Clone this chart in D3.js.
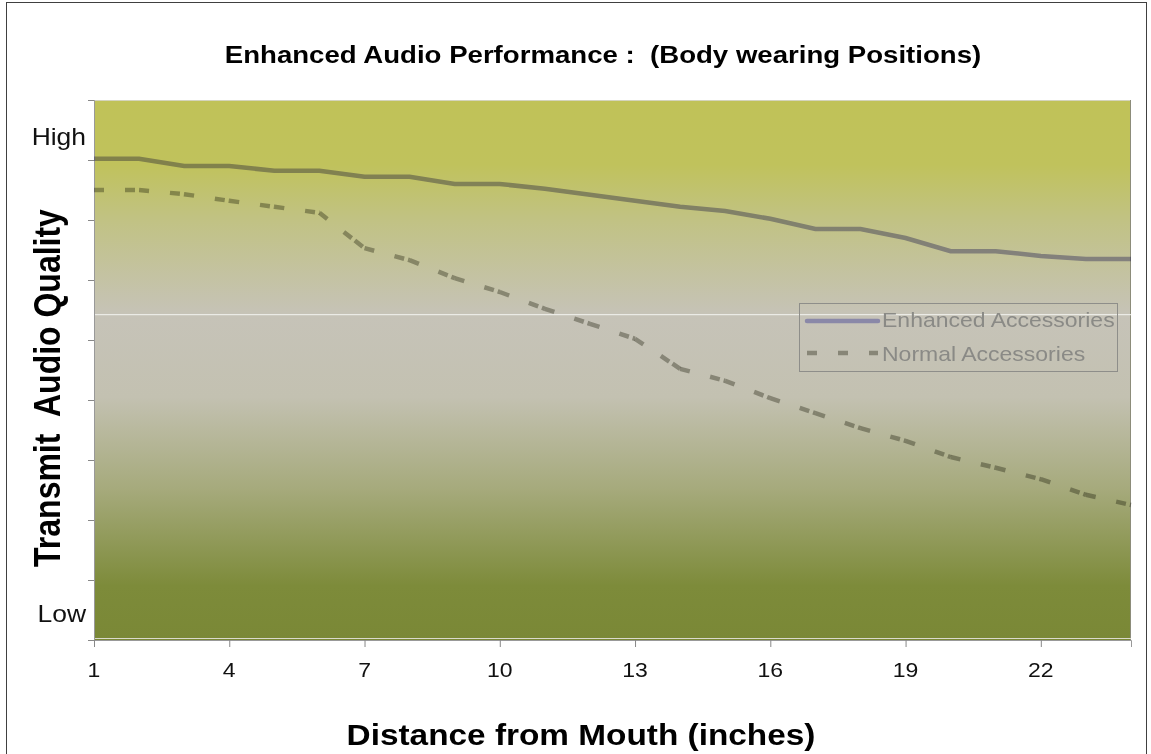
<!DOCTYPE html>
<html>
<head>
<meta charset="utf-8">
<script src="https://cdn.jsdelivr.net/npm/d3@7"></script>
<style>
  body { margin: 0; background: #fff; }
  text { font-family: "Liberation Sans", Arial, sans-serif; }
</style>
</head>
<body>
<svg id="chart" width="1151" height="754"></svg>
<script>
// categories: distance from mouth in inches
const distances = d3.range(1, 25)
const xTickLabels = [1, 4, 7, 10, 13, 16, 19, 22]
// quality values (0 = bottom, 9 = top of plot)
const enhanced = [8.02, 8.02, 7.9, 7.9, 7.82, 7.82, 7.72, 7.72, 7.6, 7.6, 7.52, 7.42,
                  7.32, 7.22, 7.15, 7.02, 6.85, 6.85, 6.7, 6.48, 6.48, 6.4, 6.35, 6.35]
const normal = [7.5, 7.5, 7.43, 7.32, 7.22, 7.12, 6.53, 6.33, 6.03, 5.8, 5.52, 5.27,
                5.02, 4.52, 4.32, 4.03, 3.78, 3.53, 3.32, 3.05, 2.87, 2.68, 2.42, 2.25]
const yTicks = d3.range(0, 10)
const yLabels = [{ text: 'High', v: 8.38 }, { text: 'Low', v: 0.44 }]
const legendNames = ['Enhanced Accessories', 'Normal Accessories']
const whiteRule = 5.43

const svg = d3.select('#chart')
const plotL = 94, plotR = 1131, plotT = 100, plotB = 640
const sx = 1.15 // the original picture is stretched sideways

const x = d3.scaleLinear().domain([1, 24]).range([plotL, plotR])
const y = d3.scaleLinear().domain([0, 9]).range([plotB, plotT])

// text helper, stretched like the original
const label = (g, px, py, str, size, opts = {}) => g.append('text')
    .attr('transform', `translate(${px},${py}) scale(${sx},1)` + (opts.rotate ? ` rotate(${opts.rotate})` : ''))
    .attr('text-anchor', opts.anchor || 'start')
    .attr('dy', opts.dy || null)
    .attr('font-size', size)
    .attr('font-weight', opts.bold ? 'bold' : 'normal')
    .attr('fill', opts.fill || '#000')
    .style('white-space', 'pre')
    .text(str)

// outer frame
svg.append('rect')
    .attr('x', 6.5).attr('y', 2.5).attr('width', 1140).attr('height', 760)
    .attr('fill', '#fff').attr('stroke', '#404040').attr('stroke-width', 1)

// plot background gradient
const grad = svg.append('defs').append('linearGradient')
    .attr('id', 'bg').attr('x1', 0).attr('y1', 0).attr('x2', 0).attr('y2', 1)
const stops = [[0, '#c0c258'], [0.12, '#c0c25c'], [0.22, '#c1c283'], [0.4, '#c6c3b8'],
               [0.55, '#c3c1b1'], [0.72, '#a6aa7c'], [0.9, '#7d8b3a'], [1, '#7a8836']]
grad.selectAll('stop').data(stops).enter().append('stop')
    .attr('offset', d => d[0]).attr('stop-color', d => d[1])

svg.append('rect')
    .attr('x', plotL).attr('y', plotT).attr('width', plotR - plotL).attr('height', plotB - plotT)
    .attr('fill', 'url(#bg)')
svg.append('line')
    .attr('x1', plotL).attr('x2', plotR).attr('y1', plotT + 0.5).attr('y2', plotT + 0.5)
    .attr('stroke', '#d4d4bc')
svg.append('line')
    .attr('x1', plotR - 0.5).attr('x2', plotR - 0.5).attr('y1', plotT).attr('y2', plotB)
    .attr('stroke', '#8c8c7a')
svg.append('line')
    .attr('x1', plotL).attr('x2', plotR).attr('y1', y(whiteRule) + 0.5).attr('y2', y(whiteRule) + 0.5)
    .attr('stroke', '#f4f4f0').attr('stroke-width', 1)
svg.append('line')
    .attr('x1', plotL).attr('x2', plotR).attr('y1', plotB - 1.5).attr('y2', plotB - 1.5)
    .attr('stroke', '#dadacc')

// axes
const yAxis = svg.append('g')
    .attr('transform', `translate(${plotL},0)`)
    .call(d3.axisLeft(y).tickValues(yTicks).tickSize(6).tickFormat(''))
const xAxis = svg.append('g')
    .attr('transform', `translate(0,${plotB})`)
    .call(d3.axisBottom(x).tickValues(xTickLabels).tickSize(7).tickFormat(''))
;[yAxis, xAxis].forEach(g => {
    g.select('.domain').attr('stroke', '#999')
    g.selectAll('.tick line').attr('stroke', '#888')
})
xTickLabels.forEach(v => label(svg, x(v), 677, String(v), 20, { anchor: 'middle', fill: '#111' }))
yLabels.forEach(d => label(svg, 86, y(d.v), d.text, 23, { anchor: 'end', dy: '0.35em', fill: '#111' }))

// series
const line = d3.line().x((d, i) => x(distances[i])).y(d => y(d))

svg.append('path')
    .datum(enhanced)
    .attr('d', line)
    .attr('fill', 'none').attr('stroke', '#aba9d0').attr('stroke-width', 4.5)
    .style('mix-blend-mode', 'multiply')

// dashes restart at every point, like the original
const pairs = d3.pairs(normal.map((v, i) => [distances[i], v]))
svg.selectAll('.nseg').data(pairs).enter().append('line')
    .attr('class', 'nseg')
    .attr('x1', d => x(d[0][0])).attr('y1', d => y(d[0][1]))
    .attr('x2', d => x(d[1][0])).attr('y2', d => y(d[1][1]))
    .attr('stroke', '#b0b0a8').attr('stroke-width', 4.5)
    .attr('stroke-dasharray', '10,21,10,4')
    .style('mix-blend-mode', 'multiply')

// legend
const lg = svg.append('g')
lg.append('rect')
    .attr('x', 799.5).attr('y', 303.5).attr('width', 318).attr('height', 68)
    .attr('fill', 'none').attr('stroke', '#8e8e8a')
lg.append('line')
    .attr('x1', 807).attr('x2', 878).attr('y1', 321).attr('y2', 321)
    .attr('stroke', '#8a88a8').attr('stroke-width', 4.5).attr('stroke-linecap', 'round')
lg.append('line')
    .attr('x1', 807).attr('x2', 878).attr('y1', 353).attr('y2', 353)
    .attr('stroke', '#b0b0a8').attr('stroke-width', 4.5)
    .attr('stroke-dasharray', '10,21')
    .style('mix-blend-mode', 'multiply')
legendNames.forEach((n, i) => label(lg, 882, 327 + i * 34, n, 20, { fill: '#8a8a86' }))

// titles
label(svg, 603, 63, 'Enhanced Audio Performance :  (Body wearing Positions)', 24, { anchor: 'middle', bold: true })
label(svg, 60, 388, 'Transmit  Audio Quality', 32, { anchor: 'middle', bold: true, rotate: -90 })
label(svg, 581, 745, 'Distance from Mouth (inches)', 29, { anchor: 'middle', bold: true })
</script>
</body>
</html>
